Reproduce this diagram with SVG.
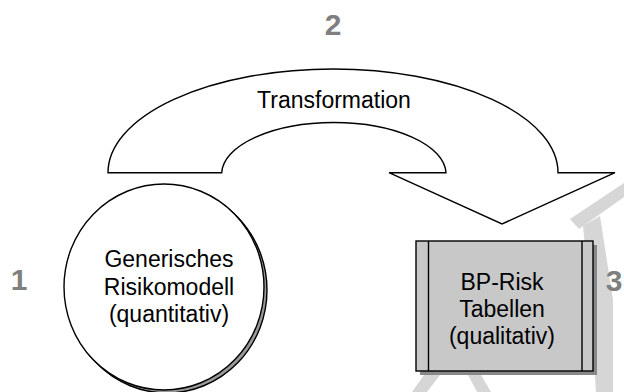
<svg xmlns="http://www.w3.org/2000/svg" width="624" height="392" viewBox="0 0 624 392">
<style>
.lbl{font-family:"Liberation Sans",Arial,sans-serif;font-size:23px;fill:#000;text-anchor:middle}
.num{font-family:"Liberation Sans",Arial,sans-serif;font-size:30px;font-weight:bold;fill:#7f7f7f;text-anchor:middle}
.ln{stroke:#000;stroke-width:1.4}
.wm{fill:#d6d6d6}
</style>
<rect width="624" height="392" fill="#fff"/>
<g id="watermark">
<polygon class="wm" points="570,219 624,183 624,197 579,229"/>
<polygon class="wm" points="583,226 600,216 613,300 613,392 596,392 590,300"/>
<polygon class="wm" points="412,392 427,392 440,375 424,375"/>
<polygon class="wm" points="468,375 481,375 491,392 477,392"/>
</g>
<text class="num" x="333" y="35">2</text>
<text class="num" x="19" y="290">1</text>
<text class="num" x="614" y="291">3</text>
<g id="connectors">
<path id="transformation-arrow" class="ln" fill="#fff" d="M108,172.7 A225,103.7 0 0 1 558,172.7 L615,172.7 L502,224 L389,172.7 L446,172.7 A112.2,51.7 0 0 0 221.7,172.7 Z"/>
<text class="lbl" x="334" y="108">Transformation</text>
</g>
<g id="node1">
<ellipse cx="167" cy="290" rx="100" ry="103" fill="#999" class="ln"/>
<ellipse cx="164" cy="287" rx="100" ry="103" fill="#fff" class="ln"/>
<text class="lbl" x="169" y="267">Generisches</text>
<text class="lbl" x="169" y="294.5">Risikomodell</text>
<text class="lbl" x="169" y="322">(quantitativ)</text>
</g>
<g id="node2">
<rect x="420" y="245" width="177" height="130" fill="#888"/>
<rect x="416" y="241" width="177" height="130" fill="#c8c8c8" class="ln"/>
<line class="ln" x1="428.5" y1="241" x2="428.5" y2="371"/>
<line class="ln" x1="582" y1="241" x2="582" y2="371"/>
<text class="lbl" x="502" y="290">BP-Risk</text>
<text class="lbl" x="502" y="317">Tabellen</text>
<text class="lbl" x="502" y="343.5">(qualitativ)</text>
</g>
</svg>
